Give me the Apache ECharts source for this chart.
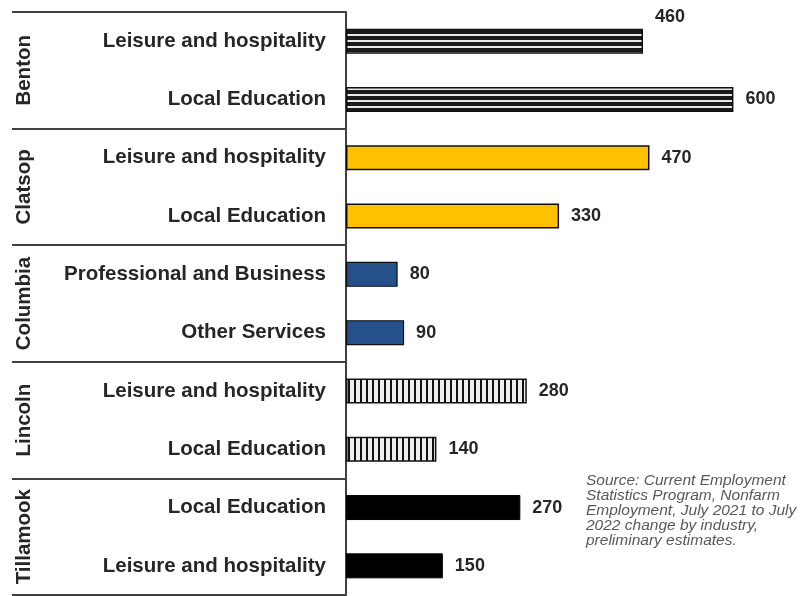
<!DOCTYPE html>
<html><head><meta charset="utf-8">
<script src="https://cdn.jsdelivr.net/npm/echarts@6/dist/echarts.min.js"></script>
<style>html,body{margin:0;padding:0;background:#fff}#c{width:801px;height:596px}</style>
</head><body><div id="c"></div>
<script>
var counties = ['Benton','Clatsop','Columbia','Lincoln','Tillamook'];
var industries = ['Leisure and hospitality','Local Education','Leisure and hospitality','Local Education','Professional and Business','Other Services','Leisure and hospitality','Local Education','Local Education','Leisure and hospitality'];
var values = [460,600,470,330,80,90,280,140,270,150];
var countyOfBar = [0,0,1,1,2,2,3,3,4,4];
var sourceLines = ['Source: Current Employment','Statistics Program, Nonfarm','Employment, July 2021 to July','2022 change by industry,','preliminary estimates.'];

function hStripe(){
  var c=document.createElement('canvas');c.width=4;c.height=6;
  var g=c.getContext('2d');g.fillStyle='#e8e8e8';g.fillRect(0,0,4,6);
  g.fillStyle='#1a1a1a';g.fillRect(0,0,4,4);return c;
}
function vStripe(){
  var c=document.createElement('canvas');c.width=6;c.height=4;
  var g=c.getContext('2d');g.fillStyle='#eeeeee';g.fillRect(0,0,6,4);
  g.fillStyle='#111';g.fillRect(0,0,2,4);return c;
}
var countyStyles = [
  {color:{image:hStripe(),repeat:'repeat'},borderColor:'#111',borderWidth:1.5},
  {color:'#FFC000',borderColor:'#111',borderWidth:1.5},
  {color:'#25508A',borderColor:'#111',borderWidth:1.2},
  {color:{image:vStripe(),repeat:'repeat'},borderColor:'#111',borderWidth:1.5},
  {color:'#000000',borderColor:'#000',borderWidth:1}
];
var FF = 'Arial, "Liberation Sans", sans-serif';
var chart = echarts.init(document.getElementById('c'));
chart.setOption({
  animation:false,
  title:{text:sourceLines.join('\n'),left:586,top:473,padding:0,
    textStyle:{fontStyle:'italic',fontWeight:'normal',fontSize:15.5,lineHeight:15,color:'#595959',fontFamily:FF}},
  grid:{left:346,right:3,top:12,bottom:1,containLabel:false},
  xAxis:{type:'value',min:0,max:700,show:false},
  yAxis:[
    {type:'category',data:industries,inverse:true,
      axisLine:{show:true,lineStyle:{color:'#404040',width:2}},
      axisTick:{show:false},
      axisLabel:{interval:0,fontWeight:'bold',fontSize:20.5,color:'#262626',margin:20,fontFamily:FF}},
    {type:'category',data:counties,inverse:true,position:'left',
      axisLine:{show:false},
      axisTick:{show:true,interval:0,length:334,lineStyle:{color:'#404040',width:2}},
      axisLabel:{show:false}},
    {type:'category',data:counties,inverse:true,position:'left',
      axisLine:{show:false},axisTick:{show:false},
      axisLabel:{interval:0,rotate:90,margin:311,fontWeight:'bold',fontSize:20.5,color:'#262626',fontFamily:FF}}
  ],
  series:[{
    type:'bar',yAxisIndex:0,barWidth:25,
    data:values.map(function(v,i){
      var d={value:v,itemStyle:countyStyles[countyOfBar[i]]};
      if(i===0){d.label={offset:[0,-24]};}
      return d;
    }),
    label:{show:true,position:'right',distance:12,fontWeight:'bold',fontSize:18,color:'#262626',fontFamily:FF}
  }]
});
</script></body></html>
